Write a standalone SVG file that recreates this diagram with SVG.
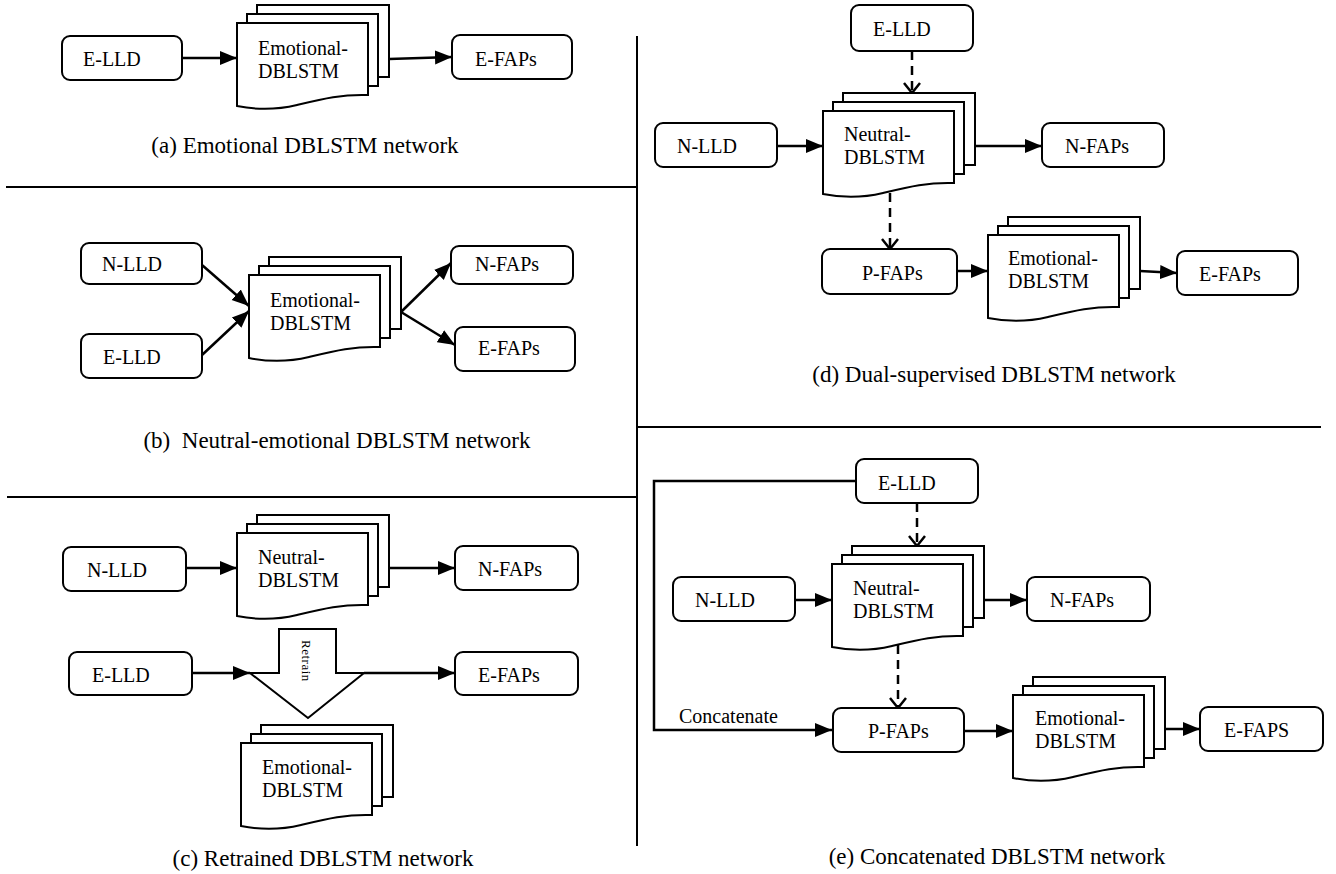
<svg xmlns="http://www.w3.org/2000/svg" xmlns:xlink="http://www.w3.org/1999/xlink" width="1336" height="874" viewBox="0 0 1336 874">
<style>
.box{fill:#fff;stroke:#000;stroke-width:2}
.t{font-family:"Liberation Serif","Times New Roman",serif;font-size:20px;fill:#000}
.cap{font-family:"Liberation Serif","Times New Roman",serif;font-size:23px;fill:#000;text-anchor:middle}
.c{fill:none;stroke:#000;stroke-width:2.5}
.cd{fill:none;stroke:#000;stroke-width:2.5;stroke-dasharray:9 6}
.dv{stroke:#000;stroke-width:2;fill:none}
</style>
<defs>
<marker id="ah" markerUnits="userSpaceOnUse" markerWidth="18" markerHeight="16" refX="17" refY="8" orient="auto"><path d="M0,1 L17,8 L0,15 Z" fill="#000"/></marker>
<marker id="oh" markerUnits="userSpaceOnUse" markerWidth="14" markerHeight="20" refX="11" refY="9" orient="auto"><path d="M1,1 L11,9 L1,17" fill="none" stroke="#000" stroke-width="2.5"/></marker>
<g id="stack">
<rect x="20" y="-18" width="132" height="72" fill="#fff" stroke="#000" stroke-width="2"/>
<rect x="10" y="-9" width="131" height="72" fill="#fff" stroke="#000" stroke-width="2"/>
<path d="M0,0 H131 V72 C105,71 85,76 60,82 C35,88 15,86 0,83 Z" fill="#fff" stroke="#000" stroke-width="2"/>
</g>
</defs>

<g id="dividers">
<line class="dv" x1="637" y1="36" x2="637" y2="846"/>
<line class="dv" x1="6" y1="187" x2="637" y2="187"/>
<line class="dv" x1="7" y1="497" x2="637" y2="497"/>
<line class="dv" x1="637" y1="427" x2="1321" y2="427"/>
</g>

<g id="connectors">
<!-- (a) -->
<line class="c" x1="182" y1="58" x2="237" y2="58" marker-end="url(#ah)"/>
<line class="c" x1="389" y1="59" x2="452" y2="57" marker-end="url(#ah)"/>
<!-- (b) -->
<line class="c" x1="202" y1="265" x2="249" y2="306" marker-end="url(#ah)"/>
<line class="c" x1="202" y1="355" x2="249" y2="311" marker-end="url(#ah)"/>
<line class="c" x1="401" y1="312" x2="451" y2="263" marker-end="url(#ah)"/>
<line class="c" x1="401" y1="312" x2="455" y2="345" marker-end="url(#ah)"/>
<!-- (c) -->
<line class="c" x1="186" y1="568" x2="237" y2="568" marker-end="url(#ah)"/>
<line class="c" x1="389" y1="568" x2="455" y2="568" marker-end="url(#ah)"/>
<line class="c" x1="192" y1="673" x2="250" y2="673" marker-end="url(#ah)"/>
<line class="c" x1="364" y1="673" x2="455" y2="673" marker-end="url(#ah)"/>
<!-- (d) -->
<line class="cd" x1="912" y1="51" x2="912" y2="93" marker-end="url(#oh)"/>
<line class="c" x1="777" y1="146" x2="823" y2="146" marker-end="url(#ah)"/>
<line class="c" x1="975" y1="146" x2="1042" y2="146" marker-end="url(#ah)"/>
<line class="cd" x1="890" y1="193" x2="890" y2="249" marker-end="url(#oh)"/>
<line class="c" x1="957" y1="271" x2="988" y2="271" marker-end="url(#ah)"/>
<line class="c" x1="1140" y1="271" x2="1177" y2="273" marker-end="url(#ah)"/>
<!-- (e) -->
<polyline class="c" points="856,481 654,481 654,730 832,730" marker-end="url(#ah)"/>
<line class="cd" x1="917" y1="503" x2="917" y2="546" marker-end="url(#oh)"/>
<line class="c" x1="795" y1="600" x2="832" y2="600" marker-end="url(#ah)"/>
<line class="c" x1="984" y1="600" x2="1027" y2="600" marker-end="url(#ah)"/>
<line class="cd" x1="898" y1="645" x2="898" y2="708" marker-end="url(#oh)"/>
<line class="c" x1="964" y1="731" x2="1013" y2="731" marker-end="url(#ah)"/>
<line class="c" x1="1165" y1="729" x2="1200" y2="729" marker-end="url(#ah)"/>
</g>

<!-- (a) Emotional DBLSTM network -->
<g id="a-elld"><rect class="box" x="62" y="36" width="120" height="44" rx="8"/><text class="t" x="83" y="66">E-LLD</text></g>
<g id="a-dblstm"><use xlink:href="#stack" href="#stack" transform="translate(237,23)"/><text class="t" x="258" y="55">Emotional-<tspan x="258" y="78">DBLSTM</tspan></text></g>
<g id="a-efaps"><rect class="box" x="452" y="35" width="120" height="44" rx="8"/><text class="t" x="475" y="66">E-FAPs</text></g>
<text class="cap" x="305" y="153">(a) Emotional DBLSTM network</text>

<!-- (b) -->
<g id="b-nlld"><rect class="box" x="81" y="243" width="121" height="41" rx="8"/><text class="t" x="102" y="271">N-LLD</text></g>
<g id="b-elld"><rect class="box" x="81" y="334" width="121" height="44" rx="8"/><text class="t" x="103" y="364">E-LLD</text></g>
<g id="b-dblstm"><use xlink:href="#stack" href="#stack" transform="translate(249,275)"/><text class="t" x="270" y="307">Emotional-<tspan x="270" y="330">DBLSTM</tspan></text></g>
<g id="b-nfaps"><rect class="box" x="451" y="246" width="122" height="38" rx="8"/><text class="t" x="475" y="271">N-FAPs</text></g>
<g id="b-efaps"><rect class="box" x="455" y="327" width="120" height="44" rx="8"/><text class="t" x="478" y="355">E-FAPs</text></g>
<text class="cap" x="337" y="448" xml:space="preserve">(b)  Neutral-emotional DBLSTM network</text>

<!-- (c) -->
<g id="c-nlld"><rect class="box" x="63" y="547" width="123" height="44" rx="8"/><text class="t" x="87" y="577">N-LLD</text></g>
<g id="c-neutral"><use xlink:href="#stack" href="#stack" transform="translate(237,533)"/><text class="t" x="258" y="564">Neutral-<tspan x="258" y="587">DBLSTM</tspan></text></g>
<g id="c-nfaps"><rect class="box" x="455" y="546" width="123" height="44" rx="8"/><text class="t" x="478" y="576">N-FAPs</text></g>
<g id="c-retrain"><polygon points="279,629 336,629 336,673 364,673 308,718 250,673 279,673" fill="#fff" stroke="#000" stroke-width="2"/><text transform="translate(302,640) rotate(90)" font-family="Liberation Serif, Times New Roman, serif" font-size="13" letter-spacing="0.5">Retrain</text></g>
<g id="c-elld"><rect class="box" x="69" y="652" width="123" height="43" rx="8"/><text class="t" x="92" y="682">E-LLD</text></g>
<g id="c-efaps"><rect class="box" x="455" y="652" width="123" height="43" rx="8"/><text class="t" x="478" y="682">E-FAPs</text></g>
<g id="c-emotional"><use xlink:href="#stack" href="#stack" transform="translate(241,743)"/><text class="t" x="262" y="774">Emotional-<tspan x="262" y="797">DBLSTM</tspan></text></g>
<text class="cap" x="323" y="866">(c) Retrained DBLSTM network</text>

<!-- (d) -->
<g id="d-elld"><rect class="box" x="851" y="5" width="122" height="46" rx="8"/><text class="t" x="873" y="36">E-LLD</text></g>
<g id="d-nlld"><rect class="box" x="655" y="123" width="122" height="44" rx="8"/><text class="t" x="677" y="153">N-LLD</text></g>
<g id="d-neutral"><use xlink:href="#stack" href="#stack" transform="translate(823,111)"/><text class="t" x="844" y="141">Neutral-<tspan x="844" y="164">DBLSTM</tspan></text></g>
<g id="d-nfaps"><rect class="box" x="1042" y="123" width="122" height="44" rx="8"/><text class="t" x="1065" y="153">N-FAPs</text></g>
<g id="d-pfaps"><rect class="box" x="822" y="249" width="135" height="45" rx="8"/><text class="t" x="862" y="280">P-FAPs</text></g>
<g id="d-emotional"><use xlink:href="#stack" href="#stack" transform="translate(988,235)"/><text class="t" x="1008" y="265">Emotional-<tspan x="1008" y="288">DBLSTM</tspan></text></g>
<g id="d-efaps"><rect class="box" x="1177" y="251" width="121" height="44" rx="8"/><text class="t" x="1199" y="281">E-FAPs</text></g>
<text class="cap" x="994" y="382">(d) Dual-supervised DBLSTM network</text>

<!-- (e) -->
<g id="e-elld"><rect class="box" x="856" y="459" width="122" height="44" rx="8"/><text class="t" x="878" y="490">E-LLD</text></g>
<text class="t" x="679" y="723">Concatenate</text>
<g id="e-nlld"><rect class="box" x="673" y="577" width="122" height="44" rx="8"/><text class="t" x="695" y="607">N-LLD</text></g>
<g id="e-neutral"><use xlink:href="#stack" href="#stack" transform="translate(832,564)"/><text class="t" x="853" y="595">Neutral-<tspan x="853" y="618">DBLSTM</tspan></text></g>
<g id="e-nfaps"><rect class="box" x="1027" y="577" width="123" height="44" rx="8"/><text class="t" x="1050" y="607">N-FAPs</text></g>
<g id="e-pfaps"><rect class="box" x="833" y="708" width="131" height="44" rx="8"/><text class="t" x="868" y="738">P-FAPs</text></g>
<g id="e-emotional"><use xlink:href="#stack" href="#stack" transform="translate(1013,695)"/><text class="t" x="1035" y="725">Emotional-<tspan x="1035" y="748">DBLSTM</tspan></text></g>
<g id="e-efaps"><rect class="box" x="1200" y="707" width="123" height="44" rx="8"/><text class="t" x="1224" y="737">E-FAPS</text></g>
<text class="cap" x="997" y="864">(e) Concatenated DBLSTM network</text>
</svg>
